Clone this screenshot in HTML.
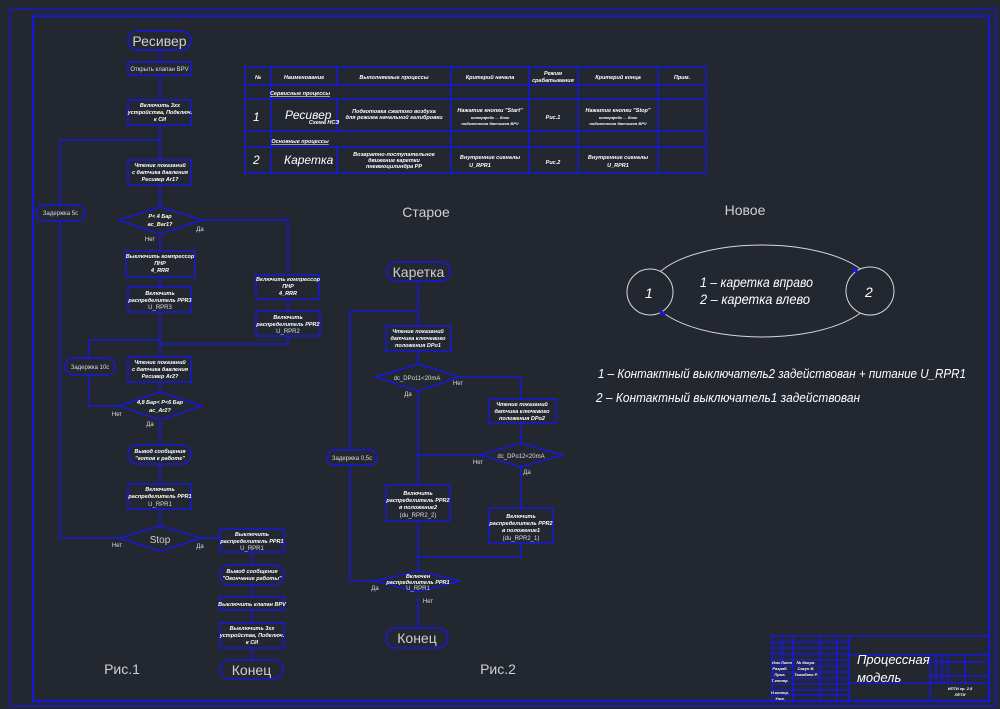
<!DOCTYPE html>
<html><head><meta charset="utf-8"><style>
html,body{margin:0;padding:0;background:#222730;}
svg{display:block}
.l{stroke:#1818dc;stroke-width:1.5;fill:none}
.b{stroke:#1818dc;stroke-width:1.5;fill:#222730}
.t{fill:#fff;font-family:"Liberation Sans Narrow","Liberation Sans",sans-serif;font-weight:bold;font-style:italic;font-size:5.5px;text-anchor:middle}
.s{fill:#ddd;font-family:"Liberation Sans Narrow","Liberation Sans",sans-serif;font-size:6px;text-anchor:middle}
.g{fill:#d0d0d0;font-family:"Liberation Sans Narrow","Liberation Sans",sans-serif;font-size:14px;text-anchor:middle}
.i{fill:#fff;font-family:"Liberation Sans Narrow","Liberation Sans",sans-serif;font-style:italic;font-size:14px}
</style></head><body>
<svg width="1000" height="709" viewBox="0 0 1000 709" xmlns="http://www.w3.org/2000/svg">
<rect width="1000" height="709" fill="#222730"/>
<rect x="10" y="9" width="986" height="697" fill="none" stroke="#1818dc" stroke-width="1.3"/>
<rect x="33" y="16" width="956" height="685" fill="none" stroke="#1818dc" stroke-width="2.2"/>

<g>
<path class="l" d="M160 50V62M160 75V100M160 125V160M160 185V207M160 234V251M160 277V287M160 312V357M160 382V392M160 420V445M160 464V484M160 509V527"/>
<path class="l" d="M60 140H160M202 220H288V272M288 299V311M288 336V344H160M89 340H160M89 340V406H119M119 538H60V140M202 538H220M252 552V565M252 585V597M252 610V623M252 648V660"/>
<rect class="b" x="128" y="31" width="63" height="19" rx="9.5"/>
<text class="g" x="159.5" y="46">Ресивер</text>
<rect class="b" x="128" y="62" width="63" height="13"/>
<text class="s" x="159.5" y="71">Открыть клапан BPV</text>
<rect class="b" x="128" y="100" width="63" height="25"/>
<text class="t" x="160" y="107">Включить 3хх</text><text class="t" x="160" y="114">устройства, Подключ.</text><text class="t" x="160" y="121">к СИ</text>
<rect class="b" x="128" y="160" width="63" height="25"/>
<text class="t" x="160" y="167">Чтение показаний</text><text class="t" x="160" y="174">с датчика давления</text><text class="t" x="160" y="181">Ресивер Ar1?</text>
<path class="b" d="M119 220L160 207L202 220L160 234Z"/>
<text class="t" x="160" y="218">P&lt; 4 Бар</text><text class="t" x="160" y="226">ac_Bar1?</text>
<text class="s" x="200" y="231">Да</text><text class="s" x="150" y="241">Нет</text>
<rect class="b" x="126" y="251" width="69" height="26"/>
<text class="t" x="160" y="258">Выключить компрессор</text><text class="t" x="160" y="265">ПНР</text><text class="t" x="160" y="272">4_RRR</text>
<rect class="b" x="128" y="287" width="63" height="25"/>
<text class="t" x="160" y="295">Включить</text><text class="t" x="160" y="302">распределитель PPR3</text><text class="s" x="160" y="309">U_RPR3</text>
<rect class="b" x="256" y="275" width="63" height="24"/>
<text class="t" x="288" y="281">Включить компрессор</text><text class="t" x="288" y="288">ПНР</text><text class="t" x="288" y="295">4_RRR</text>
<rect class="b" x="256" y="311" width="64" height="25"/>
<text class="t" x="288" y="319">Включить</text><text class="t" x="288" y="326">распределитель PPR2</text><text class="s" x="288" y="333">U_RPR2</text>
<rect class="b" x="36" y="205" width="49" height="16" rx="8"/>
<text class="s" x="60.5" y="215">Задержка 5с</text>
<rect class="b" x="65" y="358" width="50" height="17" rx="8.5"/>
<text class="s" x="90" y="369">Задержка 10с</text>
<rect class="b" x="128" y="357" width="63" height="25"/>
<text class="t" x="160" y="364">Чтение показаний</text><text class="t" x="160" y="371">с датчика давления</text><text class="t" x="160" y="378">Ресивер Ar2?</text>
<path class="b" d="M119 406L160 392L202 406L160 420Z"/>
<text class="t" x="160" y="404">4,8 Бар&lt; P&lt;6 Бар</text><text class="t" x="160" y="412">ac_Ar2?</text>
<text class="s" x="117" y="416">Нет</text><text class="s" x="150" y="426">Да</text>
<rect class="b" x="128" y="445" width="63" height="19" rx="9.5"/>
<text class="t" x="160" y="453">Вывод сообщения</text><text class="t" x="160" y="460">"готов к работе"</text>
<rect class="b" x="128" y="484" width="63" height="25"/>
<text class="t" x="160" y="491">Включить</text><text class="t" x="160" y="498">распределитель PPR1</text><text class="s" x="160" y="506">U_RPR1</text>
<path class="b" d="M119 538L160 526L202 538L160 551Z"/>
<text class="g" x="160" y="543" style="font-size:10px">Stop</text>
<text class="s" x="117" y="547">Нет</text><text class="s" x="200" y="548">Да</text>
<rect class="b" x="220" y="529" width="64" height="23"/>
<text class="t" x="252" y="536">Выключить</text><text class="t" x="252" y="543">распределитель PPR1</text><text class="s" x="252" y="550">U_RPR1</text>
<rect class="b" x="220" y="565" width="64" height="20" rx="10"/>
<text class="t" x="252" y="573">Вывод сообщения</text><text class="t" x="252" y="580">"Окончание работы"</text>
<rect class="b" x="220" y="597" width="64" height="13"/>
<text class="t" x="252" y="606">Выключить клапан BPV</text>
<rect class="b" x="220" y="623" width="64" height="25"/>
<text class="t" x="252" y="630">Выключить 3хх</text><text class="t" x="252" y="637">устройства, Подключ.</text><text class="t" x="252" y="644">к СИ</text>
<rect class="b" x="220" y="660" width="63" height="19" rx="9.5"/>
<text class="g" x="251.5" y="675">Конец</text>
<text class="g" x="122" y="674">Рис.1</text>
</g>

<g>
<rect class="l" x="245" y="67" width="461" height="106"/>
<path class="l" d="M245 85H706M245 99H706M245 131H706M245 147H706M271 67V173M337 67V85M337 99V131M337 147V173M451 67V173M529 67V173M578 67V173M658 67V173"/>
<text class="t" x="258" y="79">№</text>
<text class="t" x="304" y="79">Наименование</text>
<text class="t" x="394" y="79">Выполняемые процессы</text>
<text class="t" x="490" y="79">Критерий начала</text>
<text class="t" x="553" y="75">Режим</text><text class="t" x="553" y="82">срабатывания</text>
<text class="t" x="618" y="79">Критерий конца</text>
<text class="t" x="682" y="79">Прим.</text>
<text class="t" x="300" y="95" style="text-decoration:underline">Сервисные процессы</text>
<text class="i" x="253" y="121" style="font-size:12px">1</text>
<text class="i" x="285" y="119" style="font-size:12px">Ресивер</text><text class="t" x="324" y="124">Схема НСЭ</text>
<text class="t" x="394" y="113">Подготовка сжатого воздуха</text><text class="t" x="394" y="119">для режима начальной калибровки</text>
<text class="t" x="490" y="112">Нажатие кнопки "Start"</text><text class="t" x="490" y="119" style="font-size:4px">интерфейс ... блок</text><text class="t" x="490" y="125" style="font-size:4px">подключения датчиков BPV</text>
<text class="t" x="553" y="119">Рис.1</text>
<text class="t" x="618" y="112">Нажатие кнопки "Stop"</text><text class="t" x="618" y="119" style="font-size:4px">интерфейс ... блок</text><text class="t" x="618" y="125" style="font-size:4px">подключения датчиков BPV</text>
<text class="t" x="300" y="143" style="text-decoration:underline">Основные процессы</text>
<text class="i" x="253" y="164" style="font-size:12px">2</text>
<text class="i" x="284" y="164" style="font-size:12px">Каретка</text>
<text class="t" x="394" y="156">Возвратно-поступательное</text><text class="t" x="394" y="162">движение каретки</text><text class="t" x="394" y="168">пневмоцилиндра PP</text>
<text class="t" x="490" y="159">Внутренние сигналы</text><text class="t" x="480" y="167">U_RPR1</text>
<text class="t" x="553" y="164">Рис.2</text>
<text class="t" x="618" y="159">Внутренние сигналы</text><text class="t" x="618" y="167">U_RPR1</text>
</g>

<text class="g" x="426" y="217">Старое</text>
<text class="g" x="745" y="215">Новое</text>

<g>
<path class="l" d="M418 281V326M350 311H418M418 351V364M459 377H521V399M521 423V443M480 455H418M418 391V485M418 521V572M521 467V508M521 543V557H418M375 581H350V311M418 598V628"/>
<rect class="b" x="387" y="262" width="63" height="19" rx="9.5"/>
<text class="g" x="418.5" y="277">Каретка</text>
<rect class="b" x="386" y="326" width="65" height="25"/>
<text class="t" x="418" y="333">Чтение показаний</text><text class="t" x="418" y="340">датчика ключевого</text><text class="t" x="418" y="347">положения DPo1</text>
<path class="b" d="M376 377L418 364L459 377L418 391Z"/>
<text class="s" x="417" y="380">dc_DPo11&lt;20mA</text>
<text class="s" x="458" y="385">Нет</text><text class="s" x="408" y="396">Да</text>
<rect class="b" x="489" y="399" width="67" height="24"/>
<text class="t" x="522" y="406">Чтение показаний</text><text class="t" x="522" y="413">датчика ключевого</text><text class="t" x="522" y="420">положения DPo2</text>
<path class="b" d="M480 455L521 443L563 455L521 467Z"/>
<text class="s" x="521" y="458">dc_DPo12&lt;20mA</text>
<text class="s" x="478" y="464">Нет</text><text class="s" x="527" y="474">Да</text>
<rect class="b" x="386" y="485" width="64" height="36"/>
<text class="t" x="418" y="495">Включить</text><text class="t" x="418" y="502">распределитель PPR2</text><text class="t" x="418" y="509">в положение2</text><text class="s" x="418" y="517">(du_RPR2_2)</text>
<rect class="b" x="489" y="508" width="64" height="35"/>
<text class="t" x="521" y="518">Включить</text><text class="t" x="521" y="525">распределитель PPR2</text><text class="t" x="521" y="532">в положение1</text><text class="s" x="521" y="540">(du_RPR2_1)</text>
<path class="b" d="M375 581L418 571L460 581L418 592Z"/>
<text class="t" x="418" y="578">Включен</text><text class="t" x="418" y="584">распределитель PPR1</text><text class="s" x="418" y="590">U_RPR1</text>
<text class="s" x="375" y="590">Да</text><text class="s" x="428" y="603">Нет</text>
<rect class="b" x="327" y="450" width="50" height="15" rx="7.5"/>
<text class="s" x="352" y="460">Задержка 0,5с</text>
<rect class="b" x="386" y="628" width="62" height="20" rx="10"/>
<text class="g" x="417" y="643">Конец</text>
<text class="g" x="498" y="674">Рис.2</text>
</g>

<g>
<ellipse cx="762" cy="291" rx="112" ry="46" fill="none" stroke="#d8d8d8" stroke-width="1"/>
<circle cx="650" cy="292" r="23" fill="#222730" stroke="#d8d8d8" stroke-width="1"/>
<circle cx="870" cy="291" r="24" fill="#222730" stroke="#d8d8d8" stroke-width="1"/>
<path d="M853 268l5 5M660 311l5 4" stroke="#1414ff" stroke-width="3"/>
<text class="i" x="645" y="298">1</text>
<text class="i" x="865" y="297">2</text>
<text class="i" x="700" y="287" textLength="113" lengthAdjust="spacingAndGlyphs">1 – каретка вправо</text>
<text class="i" x="700" y="304" textLength="110" lengthAdjust="spacingAndGlyphs">2 – каретка влево</text>
<text class="i" x="598" y="378" style="font-size:13px" textLength="368" lengthAdjust="spacingAndGlyphs">1 – Контактный выключатель2 задействован + питание  U_RPR1</text>
<text class="i" x="596" y="402" style="font-size:13px" textLength="264" lengthAdjust="spacingAndGlyphs">2 – Контактный выключатель1 задействован</text>
</g>

<g>
<rect class="l" x="772" y="636" width="217" height="65"/>
<path class="l" d="M849 636V701M930 655V701M772 642H849M772 648H849M772 654H849M772 660H849M772 666H849M772 672H849M772 678H849M772 684H849M772 690H849M772 695H849M782 636V666M793 636V701M820 636V701M837 636V701M849 655H989M849 683H989M936 655V683M942 655V683M948 655V683M965 655V683M930 662H989M930 676H989"/>
<text class="i" x="857" y="664" style="font-size:13px">Процессная</text>
<text class="i" x="857" y="682" style="font-size:13px">модель</text>
<text class="t" x="782" y="664" style="font-size:4px">Изм Лист</text>
<text class="t" x="806" y="664" style="font-size:4px">№ докум.</text>
<text class="t" x="806" y="670" style="font-size:4px">Сакун В.</text>
<text class="t" x="806" y="676" style="font-size:4px">Тажибаев Р.</text>
<text class="t" x="780" y="670" style="font-size:4px">Разраб.</text>
<text class="t" x="780" y="676" style="font-size:4px">Пров.</text>
<text class="t" x="780" y="682" style="font-size:4px">Т.контр.</text>
<text class="t" x="780" y="694" style="font-size:4px">Н.контр.</text>
<text class="t" x="780" y="700" style="font-size:4px">Утв.</text>
<text class="t" x="960" y="690" style="font-size:4px">ИПТИ гр. 2.5</text>
<text class="t" x="960" y="696" style="font-size:4px">ЛЕТИ</text>
</g>
</svg>
</body></html>
